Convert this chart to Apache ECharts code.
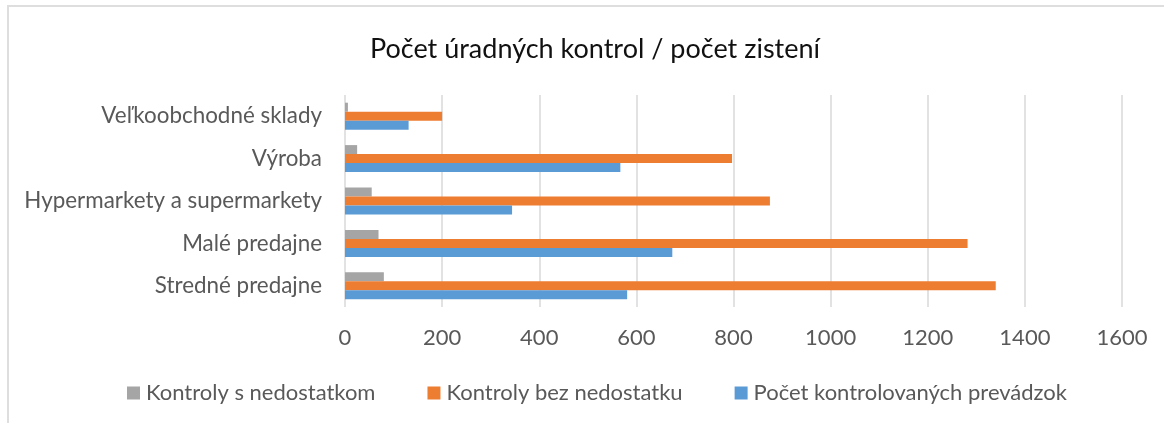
<!DOCTYPE html>
<html>
<head>
<meta charset="utf-8">
<script src="https://cdn.jsdelivr.net/npm/echarts@6/dist/echarts.min.js"></script>
<style>
    html, body {
        margin: 0;
        padding: 0;
        background: #ffffff;
    }

    #frame {
        position: absolute;
        left: 7px;
        top: 5px;
        width: 1160px;
        height: 420px;
        border-left: 2px solid #dedede;
        border-top: 2px solid #dedede;
    }

    #main {
        position: absolute;
        left: 0;
        top: 0;
        width: 1164px;
        height: 423px;
    }
</style>
</head>
<body>
<div id="frame"></div>
<div id="main"></div>

<script>
    // kategórie zdola nahor (ako v pôvodnom grafe)
    var categories = ['Stredné predajne', 'Malé predajne', 'Hypermarkety a supermarkety', 'Výroba', 'Veľkoobchodné sklady'];

    var seriesNames = ['Kontroly s nedostatkom', 'Kontroly bez nedostatku', 'Počet kontrolovaných prevádzok'];

    var sNedostatkom = [80, 69, 55, 25, 6];
    var bezNedostatku = [1340, 1282, 875, 797, 200];
    var prevadzky = [581, 674, 344, 567, 131];

    var xTicks = [0, 200, 400, 600, 800, 1000, 1200, 1400, 1600];

    var font = 'Lato';

    var myChart = echarts.init(document.getElementById('main'), null, {renderer: 'canvas'});

    var option = {
        animation: false,
        title: {
            text: 'Počet úradných kontrol / počet zistení',
            left: 365,
            top: 31,
            textStyle: {
                fontFamily: font,
                fontSize: 27,
                fontWeight: 'normal',
                color: '#111111'
            }
        },
        legend: {
            data: seriesNames,
            left: 122,
            top: 377,
            itemWidth: 13,
            itemHeight: 13,
            itemGap: 52,
            icon: 'rect',
            textStyle: {
                fontFamily: font,
                fontSize: 22,
                color: '#595959',
                padding: [0, 0, 0, 1]
            }
        },
        grid: {
            left: 345,
            right: 42,
            top: 95,
            bottom: 116
        },
        xAxis: {
            type: 'value',
            min: xTicks[0],
            max: xTicks[xTicks.length - 1],
            interval: 200,
            axisLine: {show: false},
            axisTick: {show: false},
            splitLine: {lineStyle: {color: '#d9d9d9', width: 1.5}},
            axisLabel: {
                margin: 20,
                fontFamily: font,
                fontSize: 22,
                color: '#595959',
                formatter: function (v) {
                    return String(v);
                }
            }
        },
        yAxis: {
            type: 'category',
            data: categories,
            axisLine: {show: false},
            axisTick: {show: false},
            axisLabel: {
                margin: 23,
                fontFamily: font,
                fontSize: 22.4,
                color: '#595959'
            }
        },
        series: [
            {
                name: seriesNames[0],
                type: 'bar',
                data: sNedostatkom,
                barWidth: 9,
                barGap: '0%',
                itemStyle: {color: '#a5a5a5'}
            },
            {
                name: seriesNames[1],
                type: 'bar',
                data: bezNedostatku,
                barWidth: 9,
                barGap: '0%',
                itemStyle: {color: '#ed7d31'}
            },
            {
                name: seriesNames[2],
                type: 'bar',
                data: prevadzky,
                barWidth: 9,
                barGap: '0%',
                itemStyle: {color: '#5b9bd5'}
            }
        ]
    };

    myChart.setOption(option);
</script>
</body>
</html>
